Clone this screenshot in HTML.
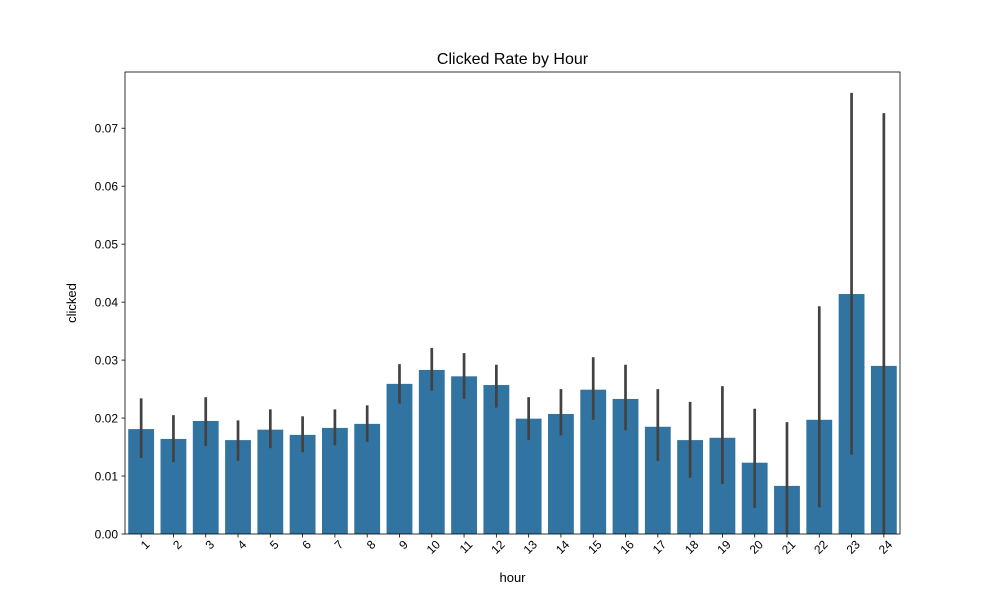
<!DOCTYPE html>
<html><head><meta charset="utf-8"><style>
body{margin:0;background:#fff;}
svg text{font-family:"Liberation Sans","DejaVu Sans",sans-serif;fill:#000;}
</style></head><body>
<svg id="chart" width="1000" height="600" xmlns="http://www.w3.org/2000/svg">
<rect width="1000" height="600" fill="#fff"/>
<text x="512.5" y="64" font-size="16" text-anchor="middle">Clicked Rate by Hour</text>
<g id="bars"></g>
<g id="errs"></g>
<g id="axes"></g>
<text x="512.5" y="582" font-size="13" text-anchor="middle">hour</text>
<text transform="translate(76,303) rotate(-90)" font-size="13" text-anchor="middle">clicked</text>
</svg>
<script>
const categories=["1","2","3","4","5","6","7","8","9","10","11","12","13","14","15","16","17","18","19","20","21","22","23","24"];
const values=[0.0181,0.0164,0.0195,0.0162,0.0180,0.0171,0.0183,0.0190,0.0259,0.0283,0.0272,0.0257,0.0199,0.0207,0.0249,0.0233,0.0185,0.0162,0.0166,0.0123,0.0083,0.0197,0.0414,0.0290];
const errLow=[0.0131,0.0124,0.0152,0.0126,0.0148,0.0141,0.0153,0.0159,0.0225,0.0247,0.0233,0.0218,0.0162,0.0170,0.0197,0.0179,0.0126,0.0097,0.0086,0.0045,0.0000,0.0046,0.0137,0.0000];
const errHigh=[0.0234,0.0205,0.0236,0.0196,0.0215,0.0203,0.0215,0.0222,0.0293,0.0321,0.0312,0.0292,0.0236,0.0250,0.0305,0.0292,0.0250,0.0228,0.0255,0.0216,0.0193,0.0393,0.0761,0.0726];
const yTicks=[0,0.01,0.02,0.03,0.04,0.05,0.06,0.07];
const yTickLabels=["0.00","0.01","0.02","0.03","0.04","0.05","0.06","0.07"];
const L=125,R=900,T=72,B=534,yMax=0.0797;
const NS="http://www.w3.org/2000/svg";
const step=(R-L)/categories.length;
const x=i=>L+step*(i+0.5);
const y=v=>B-(v/yMax)*(B-T);
function mk(tag,attrs,parent){const e=document.createElementNS(NS,tag);for(const k in attrs)e.setAttribute(k,attrs[k]);parent.appendChild(e);return e;}
const bars=document.getElementById('bars'),errs=document.getElementById('errs'),axes=document.getElementById('axes');
const bw=step*0.8;
categories.forEach((c,i)=>{
  const r=mk('rect',{x:x(i)-bw/2,y:y(values[i]),width:bw,height:B-y(values[i]),fill:'#3274a1'},bars);
  
  
  const l=mk('line',{x1:x(i),x2:x(i),y1:y(errLow[i]),y2:y(errHigh[i]),stroke:'#424242','stroke-width':2.7},errs);
  
  
  mk('line',{x1:x(i),x2:x(i),y1:B,y2:B+3.5,stroke:'#000','stroke-width':0.8},axes);
  const t=mk('text',{transform:`translate(${x(i)+3},${B+5}) rotate(-45)`,'font-size':12,'text-anchor':'end','dominant-baseline':'hanging'},axes);
  t.textContent=c;
  
  
});
yTicks.forEach((v,i)=>{
  mk('line',{x1:L-3.5,x2:L,y1:y(v),y2:y(v),stroke:'#000','stroke-width':0.8},axes);
  const t=mk('text',{x:L-7,y:y(v)+4.5,'font-size':12,'text-anchor':'end'},axes);
  t.textContent=yTickLabels[i];
  
  
});
const f=mk('rect',{x:L,y:T,width:R-L,height:B-T,fill:'none',stroke:'#000','stroke-width':0.8},axes);


</script>
</body></html>
